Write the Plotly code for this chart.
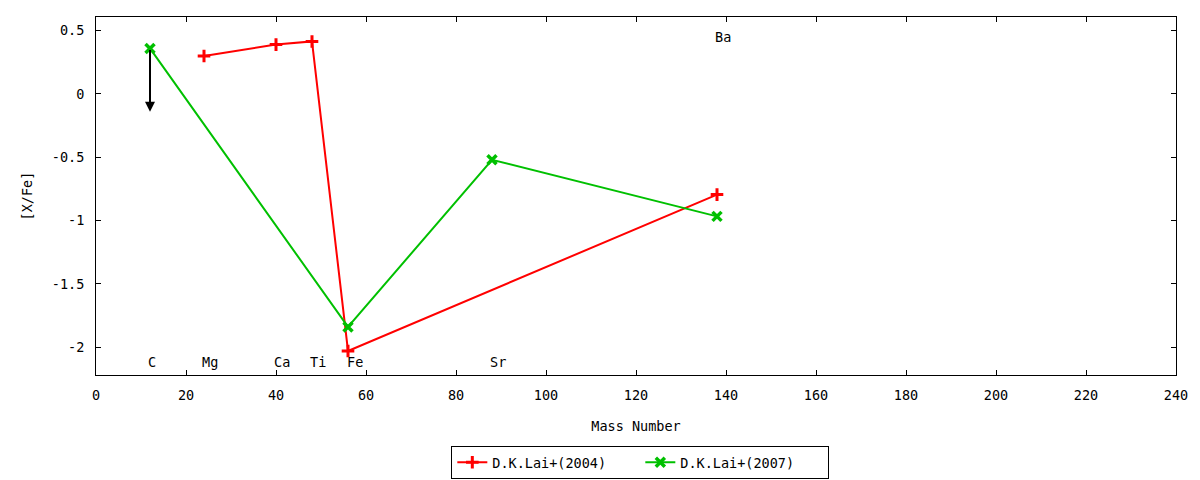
import plotly.graph_objects as go

# D.K.Lai+(2004)
lai04_mass = [24, 40, 48, 56, 138]
lai04_xfe = [0.30, 0.39, 0.415, -2.03, -0.795]

# D.K.Lai+(2007)
lai07_mass = [12, 56, 88, 138]
lai07_xfe = [0.36, -1.84, -0.52, -0.967]

# upper limit for C
c_limit_mass = 12
c_limit_from = 0.36
c_limit_to = -0.14

# element labels
elem_names = ["C", "Mg", "Ca", "Ti", "Fe", "Sr", "Ba"]
elem_mass = [11.5, 23.5, 39.5, 47.5, 55.7, 87.5, 137.5]
elem_y = [-2.12, -2.12, -2.12, -2.12, -2.12, -2.12, 0.45]

font = "DejaVu Sans Mono"
fsize = 13.5

fig = go.Figure()
fig.add_trace(go.Scatter(x=lai04_mass, y=lai04_xfe, mode="lines+markers",
                         name="D.K.Lai+(2004)",
                         line=dict(color="#ff0000", width=2),
                         marker=dict(symbol="cross-thin", size=9,
                                     line=dict(color="#ff0000", width=3))))
fig.add_trace(go.Scatter(x=lai07_mass, y=lai07_xfe, mode="lines+markers",
                         name="D.K.Lai+(2007)",
                         line=dict(color="#00c000", width=2),
                         marker=dict(symbol="x-thin", size=9,
                                     line=dict(color="#00c000", width=3.5))))

# arrow for upper limit
fig.add_annotation(x=c_limit_mass, y=c_limit_to, ax=c_limit_mass, ay=c_limit_from,
                   xref="x", yref="y", axref="x", ayref="y", text="",
                   showarrow=True, arrowhead=2, arrowsize=1, arrowwidth=2,
                   arrowcolor="black", standoff=0)

for name, m, yv in zip(elem_names, elem_mass, elem_y):
    fig.add_annotation(x=m, y=yv, text=name, showarrow=False, xanchor="left",
                       xshift=-2,
                       font=dict(family=font, size=fsize, color="black"))

axis_style = dict(showline=True, linecolor="black", linewidth=1, mirror="ticks",
                  ticks="inside", ticklen=5, tickcolor="black", showgrid=False,
                  zeroline=False, tickfont=dict(family=font, size=fsize, color="black"))

fig.update_xaxes(range=[0, 240], dtick=20, tick0=0,
                 title=dict(text="Mass Number", standoff=19,
                            font=dict(family=font, size=fsize, color="black")),
                 ticklabelstandoff=8, **axis_style)
fig.update_yaxes(range=[-2.22, 0.608], tickvals=[0.5, 0, -0.5, -1, -1.5, -2],
                 ticktext=["0.5", "0", "-0.5", "-1", "-1.5", "-2"],
                 title=dict(text="[X/Fe]", standoff=16,
                            font=dict(family=font, size=fsize, color="black")),
                 ticklabelstandoff=8, **axis_style)

fig.update_layout(width=1200, height=480,
                  margin=dict(l=88, r=32, t=9, b=113, autoexpand=False),
                  plot_bgcolor="white", paper_bgcolor="white",
                  font=dict(family=font, size=fsize, color="black"),
                  showlegend=True,
                  legend=dict(orientation="h", x=0.504, xanchor="center",
                              y=-0.1983, yanchor="top", entrywidth=143,
                              bordercolor="black", borderwidth=1,
                              font=dict(family=font, size=fsize, color="black")))

fig.write_html("out.html")
